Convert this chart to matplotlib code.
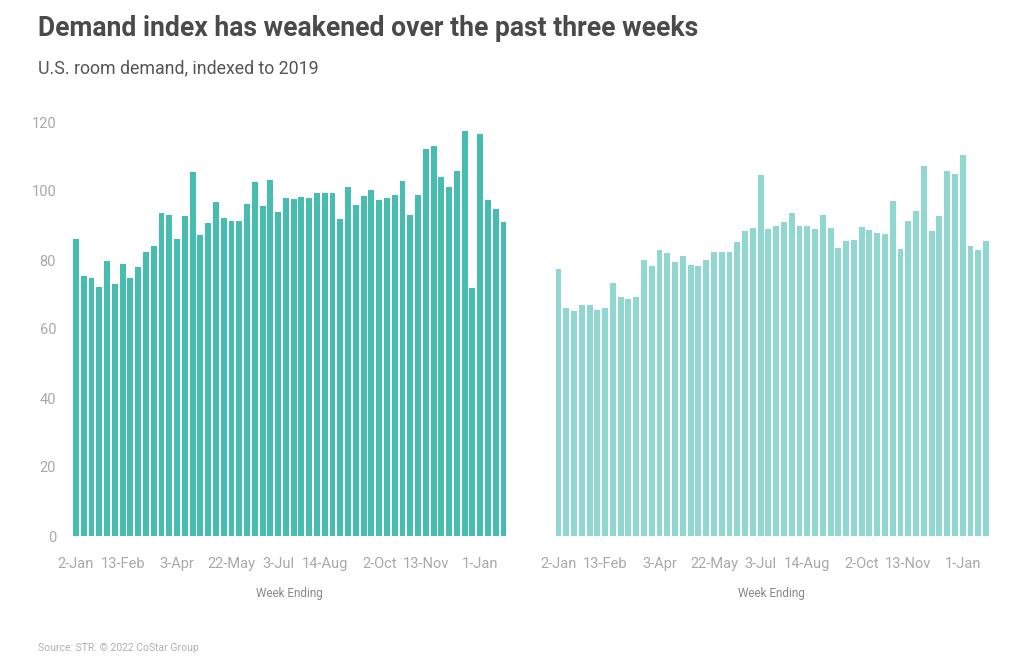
import matplotlib
matplotlib.use("Agg")
import matplotlib.pyplot as plt
import numpy as np

plt.rcParams['font.family'] = ['Roboto', 'DejaVu Sans']

# weekly demand index (2019 = 100), 56 weeks each
left_values = [86.0, 75.4, 74.8, 72.3, 79.7, 73.1, 78.8, 74.8, 77.9, 82.4,
               84.0, 93.7, 93.0, 86.0, 92.8, 105.6, 87.3, 90.6, 96.7, 92.1,
               91.3, 91.3, 96.2, 102.6, 95.7, 103.1, 93.8, 98.0, 97.6, 98.3,
               98.0, 99.4, 99.4, 99.4, 92.0, 101.1, 95.8, 98.5, 100.2, 97.4,
               97.9, 98.8, 102.9, 93.0, 98.9, 112.3, 112.9, 104.1, 101.3, 105.9,
               117.5, 72.0, 116.5, 97.3, 94.7, 90.9]
right_values = [77.5, 66.2, 65.3, 66.9, 67.1, 65.4, 66.2, 73.4, 69.4, 68.7,
                69.3, 79.9, 78.3, 82.9, 82.0, 79.5, 81.1, 78.5, 78.2, 80.0,
                82.3, 82.3, 82.3, 85.1, 88.5, 89.3, 104.6, 88.9, 89.9, 91.0,
                93.5, 90.0, 90.0, 88.9, 93.1, 89.3, 83.6, 85.6, 85.7, 89.5,
                88.7, 87.7, 87.6, 97.1, 83.3, 91.4, 94.2, 107.3, 88.5, 92.8,
                105.8, 105.0, 110.5, 84.1, 83.0, 85.4]
tick_positions = [0, 6, 13, 20, 26, 32, 39, 45, 52]
tick_labels = ["2-Jan", "13-Feb", "3-Apr", "22-May", "3-Jul", "14-Aug",
               "2-Oct", "13-Nov", "1-Jan"]
y_ticks = [0, 20, 40, 60, 80, 100, 120]

W, H = 1024, 665
fig = plt.figure(figsize=(W / 100, H / 100), dpi=100)

grey = "#a9a9a9"
axes = []
for x0, vals, col, show_y in [(70, left_values, "#47bdb2", True),
                              (552.5, right_values, "#90d6d1", False)]:
    ax = fig.add_axes([x0 / W, (H - 536) / H, 438.5 / W, 414 / H])
    x = np.arange(len(vals))
    ax.bar(x, vals, width=0.76, color=col)
    ax.set_xlim(-0.77, len(vals) - 1 + 0.64)
    ax.set_ylim(0, 120)
    for s in ax.spines.values():
        s.set_visible(False)
    ax.set_xticks(tick_positions)
    ax.set_xticklabels(tick_labels)
    ax.tick_params(axis='x', length=0, pad=15, labelsize=10.5, labelcolor=grey)
    if show_y:
        ax.set_yticks(y_ticks)
        ax.tick_params(axis='y', length=0, pad=10, labelsize=10.5, labelcolor=grey)
    else:
        ax.set_yticks([])
    fig.text((x0 + 219) / W, (H - 594) / H, "Week Ending", ha='center',
             va='center', fontsize=8.5, color="#888888")
    axes.append(ax)

fig.text(38 / W, (H - 29) / H, "Demand index has weakened over the past three weeks",
         fontsize=19.1, fontweight='bold', color="#4a4a4a", va='center',
         fontstretch='condensed')
fig.text(38 / W, (H - 68) / H, "U.S. room demand, indexed to 2019",
         fontsize=12.8, color="#555555", va='center')
fig.text(38 / W, (H - 648) / H, "Source: STR. \u00a9 2022 CoStar Group",
         fontsize=7.5, color="#b0b0b0", va='center')

fig.savefig("out.png", dpi=100)
